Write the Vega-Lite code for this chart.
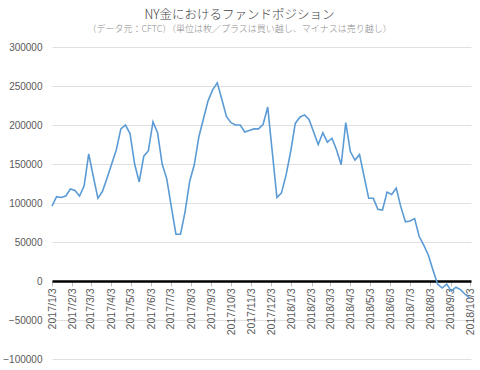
{
  "$schema": "https://vega.github.io/schema/vega-lite/v6.json",
  "autosize": {"type": "none"},
  "padding": {"left": 52, "top": 47, "right": 9, "bottom": 11},
  "width": 419,
  "height": 312,
  "background": "white",
  "title": {
    "text": "NY金におけるファンドポジション",
    "subtitle": "（データ元：CFTC）（単位は枚／プラスは買い越し、マイナスは売り越し）",
    "anchor": "middle",
    "dx": -22,
    "offset": 8,
    "font": "Noto Sans CJK JP",
    "fontSize": 12.5,
    "fontWeight": 300,
    "color": "#404040",
    "subtitleFont": "Noto Sans CJK JP",
    "subtitleFontSize": 9,
    "subtitleFontWeight": 300,
    "subtitleColor": "#8c8c8c",
    "subtitlePadding": 4
  },
  "config": {"view": {"stroke": null}},
  "data": {
    "values": [
      {"date": "2017/01/03", "position": 96000},
      {"date": "2017/01/10", "position": 108000},
      {"date": "2017/01/17", "position": 107000},
      {"date": "2017/01/24", "position": 109000},
      {"date": "2017/01/31", "position": 118000},
      {"date": "2017/02/07", "position": 116000},
      {"date": "2017/02/14", "position": 109000},
      {"date": "2017/02/21", "position": 122000},
      {"date": "2017/02/28", "position": 163000},
      {"date": "2017/03/07", "position": 134000},
      {"date": "2017/03/14", "position": 106000},
      {"date": "2017/03/21", "position": 115000},
      {"date": "2017/03/28", "position": 132000},
      {"date": "2017/04/04", "position": 150000},
      {"date": "2017/04/11", "position": 168000},
      {"date": "2017/04/18", "position": 195000},
      {"date": "2017/04/25", "position": 200000},
      {"date": "2017/05/02", "position": 189000},
      {"date": "2017/05/09", "position": 150000},
      {"date": "2017/05/16", "position": 127000},
      {"date": "2017/05/23", "position": 160000},
      {"date": "2017/05/30", "position": 167000},
      {"date": "2017/06/06", "position": 204000},
      {"date": "2017/06/13", "position": 190000},
      {"date": "2017/06/20", "position": 150000},
      {"date": "2017/06/27", "position": 131000},
      {"date": "2017/07/04", "position": 95000},
      {"date": "2017/07/11", "position": 60000},
      {"date": "2017/07/18", "position": 60000},
      {"date": "2017/07/25", "position": 89000},
      {"date": "2017/08/01", "position": 128000},
      {"date": "2017/08/08", "position": 149000},
      {"date": "2017/08/15", "position": 185000},
      {"date": "2017/08/22", "position": 208000},
      {"date": "2017/08/29", "position": 231000},
      {"date": "2017/09/05", "position": 245000},
      {"date": "2017/09/12", "position": 254000},
      {"date": "2017/09/19", "position": 233000},
      {"date": "2017/09/26", "position": 211000},
      {"date": "2017/10/03", "position": 203000},
      {"date": "2017/10/10", "position": 200000},
      {"date": "2017/10/17", "position": 200000},
      {"date": "2017/10/24", "position": 191000},
      {"date": "2017/10/31", "position": 193000},
      {"date": "2017/11/07", "position": 195000},
      {"date": "2017/11/14", "position": 195000},
      {"date": "2017/11/21", "position": 201000},
      {"date": "2017/11/28", "position": 223000},
      {"date": "2017/12/05", "position": 165000},
      {"date": "2017/12/12", "position": 107000},
      {"date": "2017/12/19", "position": 113000},
      {"date": "2017/12/26", "position": 136000},
      {"date": "2018/01/02", "position": 166000},
      {"date": "2018/01/09", "position": 202000},
      {"date": "2018/01/16", "position": 210000},
      {"date": "2018/01/23", "position": 213000},
      {"date": "2018/01/30", "position": 207000},
      {"date": "2018/02/06", "position": 191000},
      {"date": "2018/02/13", "position": 175000},
      {"date": "2018/02/20", "position": 190000},
      {"date": "2018/02/27", "position": 178000},
      {"date": "2018/03/06", "position": 183000},
      {"date": "2018/03/13", "position": 168000},
      {"date": "2018/03/20", "position": 149000},
      {"date": "2018/03/27", "position": 203000},
      {"date": "2018/04/03", "position": 166000},
      {"date": "2018/04/10", "position": 155000},
      {"date": "2018/04/17", "position": 162000},
      {"date": "2018/04/24", "position": 134000},
      {"date": "2018/05/01", "position": 106000},
      {"date": "2018/05/08", "position": 106000},
      {"date": "2018/05/15", "position": 92000},
      {"date": "2018/05/22", "position": 91000},
      {"date": "2018/05/29", "position": 114000},
      {"date": "2018/06/05", "position": 111000},
      {"date": "2018/06/12", "position": 119000},
      {"date": "2018/06/19", "position": 95000},
      {"date": "2018/06/26", "position": 76000},
      {"date": "2018/07/03", "position": 77000},
      {"date": "2018/07/10", "position": 80000},
      {"date": "2018/07/17", "position": 57000},
      {"date": "2018/07/24", "position": 46000},
      {"date": "2018/07/31", "position": 33000},
      {"date": "2018/08/07", "position": 14000},
      {"date": "2018/08/14", "position": -4000},
      {"date": "2018/08/21", "position": -9000},
      {"date": "2018/08/28", "position": -4000},
      {"date": "2018/09/04", "position": -13000},
      {"date": "2018/09/11", "position": -8000},
      {"date": "2018/09/18", "position": -11000},
      {"date": "2018/09/25", "position": -17000},
      {"date": "2018/10/02", "position": -22000}
    ]
  },
  "mark": {"type": "line", "color": "#5b9bd5", "strokeWidth": 1.6},
  "encoding": {
    "x": {
      "field": "date",
      "type": "temporal",
      "scale": {
        "domain": [{"year": 2017, "month": 1, "date": 3}, {"year": 2018, "month": 10, "date": 4}],
        "nice": false
      },
      "axis": {
        "title": null,
        "orient": "bottom",
        "offset": -78,
        "grid": false,
        "domainColor": "#000000",
        "domainWidth": 2.5,
        "ticks": true,
        "tickColor": "#bfbfbf",
        "tickSize": 5,
        "labelAngle": -90,
        "labelPadding": 2,
        "labelFont": "Liberation Sans",
        "labelFontSize": 10.5,
        "labelColor": "#595959",
        "labelOverlap": false,
        "labelFlush": false,
        "labelBound": false,
        "format": "%Y/%-m/%-d",
        "values": [
          {"year": 2017, "month": 1, "date": 3},
          {"year": 2017, "month": 2, "date": 3},
          {"year": 2017, "month": 3, "date": 3},
          {"year": 2017, "month": 4, "date": 3},
          {"year": 2017, "month": 5, "date": 3},
          {"year": 2017, "month": 6, "date": 3},
          {"year": 2017, "month": 7, "date": 3},
          {"year": 2017, "month": 8, "date": 3},
          {"year": 2017, "month": 9, "date": 3},
          {"year": 2017, "month": 10, "date": 3},
          {"year": 2017, "month": 11, "date": 3},
          {"year": 2017, "month": 12, "date": 3},
          {"year": 2018, "month": 1, "date": 3},
          {"year": 2018, "month": 2, "date": 3},
          {"year": 2018, "month": 3, "date": 3},
          {"year": 2018, "month": 4, "date": 3},
          {"year": 2018, "month": 5, "date": 3},
          {"year": 2018, "month": 6, "date": 3},
          {"year": 2018, "month": 7, "date": 3},
          {"year": 2018, "month": 8, "date": 3},
          {"year": 2018, "month": 9, "date": 3},
          {"year": 2018, "month": 10, "date": 3}
        ]
      }
    },
    "y": {
      "field": "position",
      "type": "quantitative",
      "scale": {"domain": [-100000, 300000], "nice": false, "zero": false},
      "axis": {
        "title": null,
        "values": [-100000, -50000, 0, 50000, 100000, 150000, 200000, 250000, 300000],
        "format": "d",
        "domain": false,
        "ticks": false,
        "labelPadding": 10,
        "labelFont": "Liberation Sans",
        "labelFontSize": 10,
        "labelColor": "#595959",
        "labelFlush": false,
        "gridColor": "#e0e0e0",
        "gridWidth": 1
      }
    }
  }
}
